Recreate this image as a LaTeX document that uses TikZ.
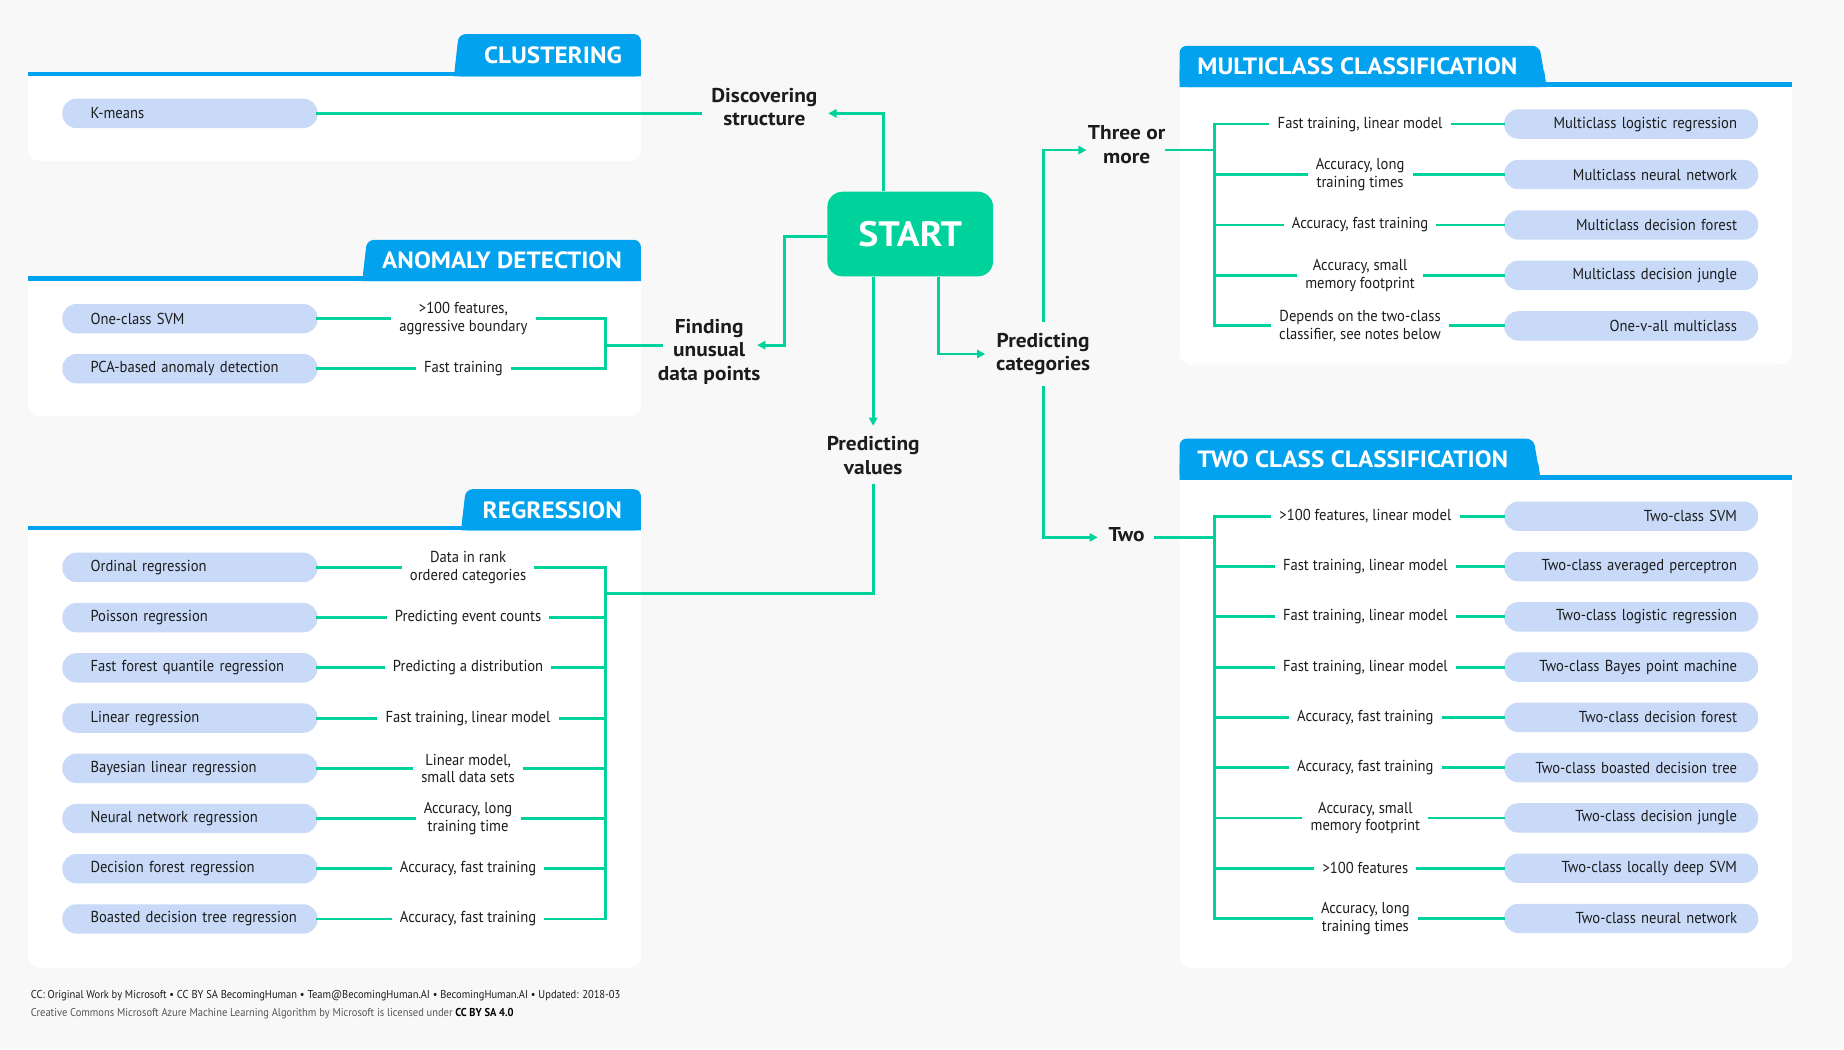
\documentclass[tikz,border=0pt]{standalone}
\usepackage{fontspec}
\setmainfont{PT Sans}[FakeStretch=0.92]
\newfontfamily\widefont{PT Sans}[FakeStretch=1.07]
\usetikzlibrary{arrows.meta}
\definecolor{bgray}{HTML}{F8F8F8}
\definecolor{hdblue}{HTML}{02A2EE}
\definecolor{lgreen}{HTML}{00D29B}
\definecolor{pillblue}{HTML}{C8DAF8}
\definecolor{txt}{HTML}{1C1C1C}
\definecolor{ftgray}{HTML}{555555}

\begin{document}
\begin{tikzpicture}
        [%%%%%%%%%%%%%%%%%%%%%%%%%%%%%%
        x=1pt,y=-1pt,
        pillL/.style={rectangle,rounded corners=12pt,fill=pillblue,minimum height=25pt,
          text width=193pt,inner xsep=12pt,inner ysep=0pt,align=left,text=txt,
          font=\fontsize{13.5}{15}\selectfont,execute at begin node={\hspace*{12pt}}},
        pillR/.style={rectangle,rounded corners=12pt,fill=pillblue,minimum height=25pt,
          text width=180pt,inner xsep=18pt,inner ysep=0pt,align=right,text=txt,
          font=\fontsize{13.5}{15}\selectfont},
        why/.style={inner xsep=8pt,inner ysep=1pt,align=center,text=txt,
          font=\fontsize{13.5}{15}\selectfont},
        ask/.style={inner xsep=9pt,inner ysep=9pt,align=center,text=txt,
          font=\widefont\bfseries\fontsize{17}{20}\selectfont},
        title/.style={inner sep=0pt,text=white,font=\widefont\bfseries\fontsize{20}{24}\selectfont},
        link/.style={draw=lgreen,line width=2.4pt,line cap=rect},
        arr/.style={draw=lgreen,line width=2.4pt,-{Triangle[length=7pt,width=7pt]}},
        ]%%%%%%%%%%%%%%%%%%%%%%%%%%%%%%

        \fill[bgray] (0,0) rectangle (1568,892);
        \useasboundingbox (0,0) rectangle (1568,892);

        % left panels
        \foreach \tx/\ty/\ly/\by/\key/\name in {386/29/61/137/clu/CLUSTERING,
            308/204/235/354/ano/ANOMALY DETECTION,392/416/447/823/reg/REGRESSION}{
          \fill[white,rounded corners=10pt] (24,\ly) rectangle (545,\by);
          \fill[white] (24,\ly) rectangle (545,\ly+20);
          \fill[hdblue,rounded corners=6pt] (\tx,\ly+4) -- (\tx+4,\ty) -- (545,\ty) -- (545,\ly+4) -- cycle;
          \fill[hdblue] (\tx+2,\ly-10) -- (\tx,\ly+4) -- (545,\ly+4) -- (545,\ly-10) -- cycle;
          \fill[hdblue] (24,\ly) rectangle (545,\ly+4);
          \node[title,anchor=east] (t\key) at (529,{(\ty+\ly)/2+2}) {\name};
        }

        % right panels
        \foreach \tx/\ty/\ly/\by/\key/\name in {1309/39/70/310/mul/MULTICLASS CLASSIFICATION,
            1304/373/404/823/two/TWO CLASS CLASSIFICATION}{
          \fill[white,rounded corners=10pt] (1003,\ly) rectangle (1524,\by);
          \fill[white] (1003,\ly) rectangle (1524,\ly+20);
          \fill[hdblue,rounded corners=6pt] (1003,\ly+4) -- (1003,\ty) -- (\tx,\ty) -- (\tx+6,\ly+4) -- cycle;
          \fill[hdblue] (1003,\ly-10) -- (1003,\ly+4) -- (\tx+6,\ly+4) -- (\tx+4,\ly-10) -- cycle;
          \fill[hdblue] (1003,\ly) rectangle (1524,\ly+4);
          \node[title,anchor=west] (t\key) at (1018,{(\ty+\ly)/2+2}) {\name};
        }

        % start and questions
        \node[fill=lgreen,rounded corners=13pt,minimum width=141pt,minimum height=72pt,
          text=white,font=\widefont\bfseries\fontsize{30}{30}\selectfont] (start) at (774,199) {START};
        \node[ask] (disc) at (650,91) {Discovering\\structure};
        \node[ask,inner xsep=-3pt] (find) at (603,299) {Finding\\unusual\\data points};
        \node[ask] (pval) at (742.5,387.5) {Predicting\\values};
        \node[ask] (pcat) at (887,301) {Predicting\\categories};
        \node[ask,inner xsep=1pt] (three) at (958,123) {Three or\\more};
        \node[ask] (two) at (958,455) {Two};

        \coordinate (amid) at (515,293.5);
        \coordinate (regin) at (515,505);
        \coordinate (mulin) at (1033,127.6);
        \coordinate (twoin) at (1033,457);

        % clustering
        \node[pillL] (km) at (161.5,96.4) {K-means};
        \draw[link] (km) -- (km -| disc.west);
        \draw[arr] ([xshift=-22.5pt]start.north) |- (km -| disc.east);

        % anomaly detection
        \foreach \m/\why [count=\i] in {One-class SVM/{>100 features,\\aggressive boundary},
            PCA-based anomaly detection/Fast training}{
          \node[pillL] (ano\i) at (161.5,{271+42.5*(\i-1)}) {\m};
          \node[why] (anow\i) at (394,{271+42.5*(\i-1)}) {\why};
          \draw[link] (ano\i) -- (anow\i);
          \draw[link] (anow\i) -- (anow\i -| amid);
        }
        \draw[link] (anow1 -| amid) -- (anow2 -| amid);
        \draw[link] (amid) -- (amid -| find.west);
        \draw[arr] ([yshift=-2pt]start.west) -- ++(-36.5,0) |- (amid -| find.east);

        % regression
        \foreach \m/\why [count=\i] in {Ordinal regression/{Data in rank\\ordered categories},
            Poisson regression/Predicting event counts,
            Fast forest quantile regression/Predicting a distribution,
            Linear regression/{Fast training, linear model},
            Bayesian linear regression/{Linear model,\\small data sets},
            Neural network regression/{Accuracy, long\\training time},
            Decision forest regression/{Accuracy, fast training},
            Boasted decision tree regression/{Accuracy, fast training}}{
          \node[pillL] (reg\i) at (161.5,{482.5+42.7*(\i-1)}) {\m};
          \node[why] (regw\i) at (398,{482.5+42.7*(\i-1)}) {\why};
          \draw[link] (reg\i) -- (regw\i);
          \draw[link] (regw\i) -- (regw\i -| regin);
        }
        \draw[link] (regw1 -| regin) -- (regw8 -| regin);
        \draw[arr] ([xshift=-31.5pt]start.south) -- (pval.north);
        \draw[link] (pval.south) |- (regin);

        % categories
        \draw[arr] ([xshift=24pt]start.south) |- (pcat.west);
        \draw[arr] (pcat.north) |- (mulin -| three.west);
        \draw[link] (mulin -| three.east) -- (mulin);
        \draw[arr] (pcat.south) |- (twoin -| two.west);
        \draw[link] (twoin -| two.east) -- (twoin);

        % multiclass
        \foreach \m/\why [count=\i] in {Multiclass logistic regression/{Fast training, linear model},
            Multiclass neural network/{Accuracy, long\\training times},
            Multiclass decision forest/{Accuracy, fast training},
            Multiclass decision jungle/{Accuracy, small\\memory footprint},
            One-v-all multiclass/{Depends on the two-class\\classifier, see notes below}}{
          \node[pillR] (mul\i) at (1387,{105.5+42.9*(\i-1)}) {\m};
          \node[why] (mulw\i) at (1156.5,{105.5+42.9*(\i-1)}) {\why};
          \draw[link] (mulw\i -| mulin) -- (mulw\i);
          \draw[link] (mulw\i) -- (mul\i);
        }
        \draw[link] (mulw1 -| mulin) -- (mulw5 -| mulin);

        % two class
        \foreach \m/\why [count=\i] in {Two-class SVM/{>100 features, linear model},
            Two-class averaged perceptron/{Fast training, linear model},
            Two-class logistic regression/{Fast training, linear model},
            Two-class Bayes point machine/{Fast training, linear model},
            Two-class decision forest/{Accuracy, fast training},
            Two-class boasted decision tree/{Accuracy, fast training},
            Two-class decision jungle/{Accuracy, small\\memory footprint},
            Two-class locally deep SVM/>100 features,
            Two-class neural network/{Accuracy, long\\training times}}{
          \node[pillR] (twc\i) at (1387,{439+42.75*(\i-1)}) {\m};
          \node[why] (twcw\i) at (1161,{439+42.75*(\i-1)}) {\why};
          \draw[link] (twcw\i -| twoin) -- (twcw\i);
          \draw[link] (twcw\i) -- (twc\i);
        }
        \draw[link] (twcw1 -| twoin) -- (twcw9 -| twoin);

        % footer
        \node[anchor=west,inner sep=0pt,text=txt,font=\fontsize{9.7}{10}\selectfont] (foot1) at (26,847)
          {CC: Original Work by Microsoft • CC BY SA BecomingHuman • Team@BecomingHuman.AI • BecomingHuman.AI • Updated: 2018-03};
        \node[anchor=west,inner sep=0pt,text=ftgray,font=\fontsize{9.7}{10}\selectfont] (foot2) at (26,862)
          {Creative Commons Microsoft Azure Machine Learning Algorithm by Microsoft is licensed under \textcolor{black}{\textbf{CC BY SA 4.0}}};

      \end{tikzpicture}
\end{document}
